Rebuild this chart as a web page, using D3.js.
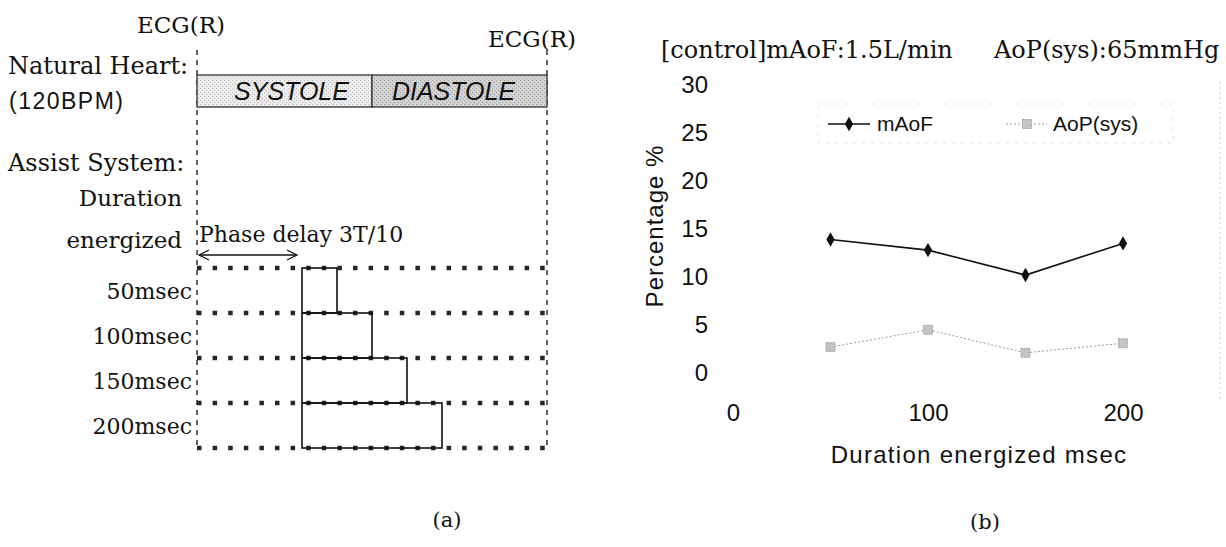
<!DOCTYPE html>
<html>
<head>
<meta charset="utf-8">
<title>Assist timing and percentage change</title>
<script src="https://cdn.jsdelivr.net/npm/d3@7"></script>
<style>
  body { margin: 0; background: #fff; }
  svg { display: block; }
  .serif { font-family: "DejaVu Serif", serif; fill: #111; }
  .sans { font-family: "Liberation Sans", Arial, sans-serif; fill: #111; }
</style>
</head>
<body>
<svg id="chart" width="1226" height="547"></svg>
<script>
// ---- data ----
var cycleMs = 500;              // 120 BPM -> 500 msec per beat
var systoleMs = 250;
var phaseDelayMs = 150;         // 3T/10
var durationLabels = ["50msec", "100msec", "150msec", "200msec"];
var durations = [50, 100, 150, 200];

var mAoF = [13.9, 12.8, 10.2, 13.5];
var aopSys = [2.7, 4.5, 2.1, 3.1];
var yTicks = [0, 5, 10, 15, 20, 25, 30];
var xTicks = [0, 100, 200];

var svg = d3.select("#chart");

// stipple textures for the heart phases
var defs = svg.append("defs");
function stipple(id, bg, dot) {
  var p = defs.append("pattern").attr("id", id).attr("patternUnits", "userSpaceOnUse")
    .attr("width", 4).attr("height", 4);
  p.append("rect").attr("width", 4).attr("height", 4).attr("fill", bg);
  p.append("rect").attr("x", 0).attr("y", 0).attr("width", 1).attr("height", 1).attr("fill", dot);
  p.append("rect").attr("x", 2).attr("y", 2).attr("width", 1).attr("height", 1).attr("fill", dot);
}
stipple("sys", "#ececec", "#b8b8b8");
stipple("dia", "#d2d2d2", "#9c9c9c");

// ================= (a) timing diagram =================
var xTime = d3.scaleLinear().domain([0, cycleMs]).range([197, 547]);
var yRow = d3.scaleBand().domain(durationLabels).range([268, 448]);

var a = svg.append("g");

// ECG(R) markers
a.append("text").attr("class", "serif").attr("x", xTime(0) - 16).attr("y", 25)
  .attr("dy", "0.35em").attr("text-anchor", "middle").style("font-size", "23px").text("ECG(R)");
a.append("text").attr("class", "serif").attr("x", xTime(cycleMs) - 15).attr("y", 39)
  .attr("dy", "0.35em").attr("text-anchor", "middle").style("font-size", "23px").text("ECG(R)");

// dashed verticals at R waves
[0, cycleMs].forEach(function(t) {
  a.append("line")
    .attr("x1", xTime(t)).attr("x2", xTime(t))
    .attr("y1", 50).attr("y2", 450)
    .attr("stroke", "#222").attr("stroke-width", 1.4)
    .attr("stroke-dasharray", "5,5");
});

// natural heart box
var phases = [
  { name: "SYSTOLE", start: 0, end: systoleMs, fill: "url(#sys)", shift: 7 },
  { name: "DIASTOLE", start: systoleMs, end: cycleMs, fill: "url(#dia)", shift: -6 }
];
a.selectAll("rect.phase").data(phases).enter().append("rect")
  .attr("class", "phase")
  .attr("x", function(d) { return xTime(d.start); })
  .attr("width", function(d) { return xTime(d.end) - xTime(d.start); })
  .attr("y", 75).attr("height", 32)
  .attr("fill", function(d) { return d.fill; })
  .attr("stroke", "#333").attr("stroke-width", 1.3);
a.selectAll("text.phase").data(phases).enter().append("text")
  .attr("class", "sans")
  .attr("x", function(d) { return (xTime(d.start) + xTime(d.end)) / 2 + d.shift; })
  .attr("y", 91).attr("dy", "0.35em").attr("text-anchor", "middle")
  .style("font-size", "25px").style("font-style", "italic")
  .text(function(d) { return d.name; });

// left labels
a.append("text").attr("class", "serif").attr("x", 8).attr("y", 66).attr("dy", "0.35em")
  .style("font-size", "24px").text("Natural Heart:");
a.append("text").attr("class", "sans").attr("x", 9).attr("y", 101).attr("dy", "0.35em")
  .style("font-size", "23px").style("letter-spacing", "1.5px").text("(120BPM)");
a.append("text").attr("class", "serif").attr("x", 8).attr("y", 163).attr("dy", "0.35em")
  .style("font-size", "24px").text("Assist System:");
a.append("text").attr("class", "serif").attr("x", 182).attr("y", 198).attr("dy", "0.35em")
  .attr("text-anchor", "end").style("font-size", "23px").text("Duration");
a.append("text").attr("class", "serif").attr("x", 182).attr("y", 240).attr("dy", "0.35em")
  .attr("text-anchor", "end").style("font-size", "23px").text("energized");
a.append("text").attr("class", "serif").attr("x", 199).attr("y", 234).attr("dy", "0.35em")
  .style("font-size", "22px").text("Phase delay 3T/10");

// phase delay arrow
var ay = 255;
a.append("line").attr("x1", xTime(0) + 2).attr("x2", xTime(phaseDelayMs) - 6)
  .attr("y1", ay).attr("y2", ay).attr("stroke", "#111").attr("stroke-width", 1.3);
a.append("path")
  .attr("d", "M" + (xTime(0) + 12) + "," + (ay - 5) + " L" + (xTime(0) + 2) + "," + ay + " L" + (xTime(0) + 12) + "," + (ay + 5))
  .attr("fill", "none").attr("stroke", "#111").attr("stroke-width", 1.3);
a.append("path")
  .attr("d", "M" + (xTime(phaseDelayMs) - 15) + "," + (ay - 5) + " L" + (xTime(phaseDelayMs) - 5) + "," + ay + " L" + (xTime(phaseDelayMs) - 15) + "," + (ay + 5))
  .attr("fill", "none").attr("stroke", "#111").attr("stroke-width", 1.3);

// dotted row separators
var rowEdges = durationLabels.map(function(d) { return yRow(d); }).concat([yRow.range()[1]]);
a.selectAll("line.row").data(rowEdges).enter().append("line")
  .attr("class", "row")
  .attr("x1", xTime(0)).attr("x2", xTime(cycleMs) + 2)
  .attr("y1", function(d) { return d; }).attr("y2", function(d) { return d; })
  .attr("stroke", "#262626").attr("stroke-width", 4.5)
  .attr("stroke-dasharray", "4.5,11.1");

// energized bars
a.selectAll("rect.bar").data(durations).enter().append("rect")
  .attr("class", "bar")
  .attr("x", xTime(phaseDelayMs))
  .attr("y", function(d, i) { return yRow(durationLabels[i]); })
  .attr("width", function(d) { return xTime(phaseDelayMs + d) - xTime(phaseDelayMs); })
  .attr("height", yRow.bandwidth())
  .attr("fill", "none").attr("stroke", "#111").attr("stroke-width", 1.6);

// row labels
a.selectAll("text.rowlab").data(durationLabels).enter().append("text")
  .attr("class", "serif")
  .attr("x", 192)
  .attr("y", function(d) { return yRow(d) + yRow.bandwidth() / 2 + 1; })
  .attr("dy", "0.35em").attr("text-anchor", "end").style("font-size", "22px")
  .text(function(d) { return d; });

a.append("text").attr("class", "serif").attr("x", 447).attr("y", 520).attr("dy", "0.35em")
  .attr("text-anchor", "middle").style("font-size", "21px").text("(a)");

// ================= (b) line chart =================
var x = d3.scaleLinear().domain([0, 200]).range([733, 1123]);
var y = d3.scaleLinear().domain([0, 30]).range([373, 85]);

var b = svg.append("g");

b.append("text").attr("class", "serif").attr("x", 661).attr("y", 50).attr("dy", "0.35em")
  .style("font-size", "24px").text("[control]mAoF:1.5L/min");
b.append("text").attr("class", "serif").attr("x", 994).attr("y", 50).attr("dy", "0.35em")
  .style("font-size", "24px").text("AoP(sys):65mmHg");

// axes (no lines, labels only)
var yAxis = b.append("g").attr("transform", "translate(712,0)")
  .call(d3.axisLeft(y).tickValues(yTicks).tickSize(0).tickPadding(4));
var xAxis = b.append("g").attr("transform", "translate(0,400)")
  .call(d3.axisBottom(x).tickValues(xTicks).tickSize(0).tickPadding(4));
[yAxis, xAxis].forEach(function(g) {
  g.select(".domain").remove();
  g.selectAll("text").attr("font-family", "Liberation Sans, Arial, sans-serif")
    .attr("font-size", "24px").attr("fill", "#111");
});
xAxis.selectAll("text").attr("dy", "0.35em").attr("y", 13);

// faint remnants of the frame
b.append("line").attr("x1", 1220).attr("x2", 1220).attr("y1", 82).attr("y2", 400)
  .attr("stroke", "#cfcfcf").attr("stroke-width", 1).attr("stroke-dasharray", "2,3");

// axis titles
b.append("text").attr("class", "sans")
  .attr("transform", "translate(655,226) rotate(-90)")
  .attr("dy", "0.35em").attr("text-anchor", "middle")
  .style("font-size", "24px").style("letter-spacing", "1px").text("Percentage %");
b.append("text").attr("class", "sans").attr("x", 979).attr("y", 455).attr("dy", "0.35em")
  .attr("text-anchor", "middle").style("font-size", "24px").style("letter-spacing", "1.3px")
  .text("Duration energized msec");

// series
var line = d3.line().x(function(d) { return x(d.x); }).y(function(d) { return y(d.y); });
var mData = durations.map(function(d, i) { return { x: d, y: mAoF[i] }; });
var pData = durations.map(function(d, i) { return { x: d, y: aopSys[i] }; });

b.append("path").datum(pData).attr("d", line).attr("fill", "none")
  .attr("stroke", "#9a9a9a").attr("stroke-width", 1).attr("stroke-dasharray", "2,2");
b.selectAll("rect.pm").data(pData).enter().append("rect")
  .attr("class", "pm")
  .attr("x", function(d) { return x(d.x) - 4.5; })
  .attr("y", function(d) { return y(d.y) - 4.5; })
  .attr("width", 9).attr("height", 9)
  .attr("fill", "#c4c4c4").attr("stroke", "#9a9a9a").attr("stroke-width", 1)
  .attr("stroke-dasharray", "1.5,1");

b.append("path").datum(mData).attr("d", line).attr("fill", "none")
  .attr("stroke", "#111").attr("stroke-width", 1.6);
var diamond = d3.symbol().type(d3.symbolDiamond).size(60);
b.selectAll("path.mm").data(mData).enter().append("path")
  .attr("class", "mm")
  .attr("transform", function(d) { return "translate(" + x(d.x) + "," + y(d.y) + ")"; })
  .attr("d", diamond).attr("fill", "#111");

// legend
var lg = b.append("g");
lg.append("rect").attr("x", 818).attr("y", 104).attr("width", 355).attr("height", 39)
  .attr("fill", "none").attr("stroke", "#e2e2e2").attr("stroke-dasharray", "3,6");
lg.append("line").attr("x1", 828).attr("x2", 870).attr("y1", 124).attr("y2", 124)
  .attr("stroke", "#111").attr("stroke-width", 1.6);
lg.append("path").attr("transform", "translate(849,124)").attr("d", diamond).attr("fill", "#111");
lg.append("text").attr("class", "sans").attr("x", 877).attr("y", 124).attr("dy", "0.35em")
  .style("font-size", "21px").text("mAoF");
lg.append("line").attr("x1", 1006).attr("x2", 1047).attr("y1", 124).attr("y2", 124)
  .attr("stroke", "#9a9a9a").attr("stroke-width", 1).attr("stroke-dasharray", "2,2");
lg.append("rect").attr("x", 1022.5).attr("y", 119.5).attr("width", 9).attr("height", 9)
  .attr("fill", "#c4c4c4").attr("stroke", "#9a9a9a").attr("stroke-dasharray", "1.5,1");
lg.append("text").attr("class", "sans").attr("x", 1053).attr("y", 124).attr("dy", "0.35em")
  .style("font-size", "21px").text("AoP(sys)");

b.append("text").attr("class", "serif").attr("x", 985).attr("y", 522).attr("dy", "0.35em")
  .attr("text-anchor", "middle").style("font-size", "21px").text("(b)");
</script>
</body>
</html>
